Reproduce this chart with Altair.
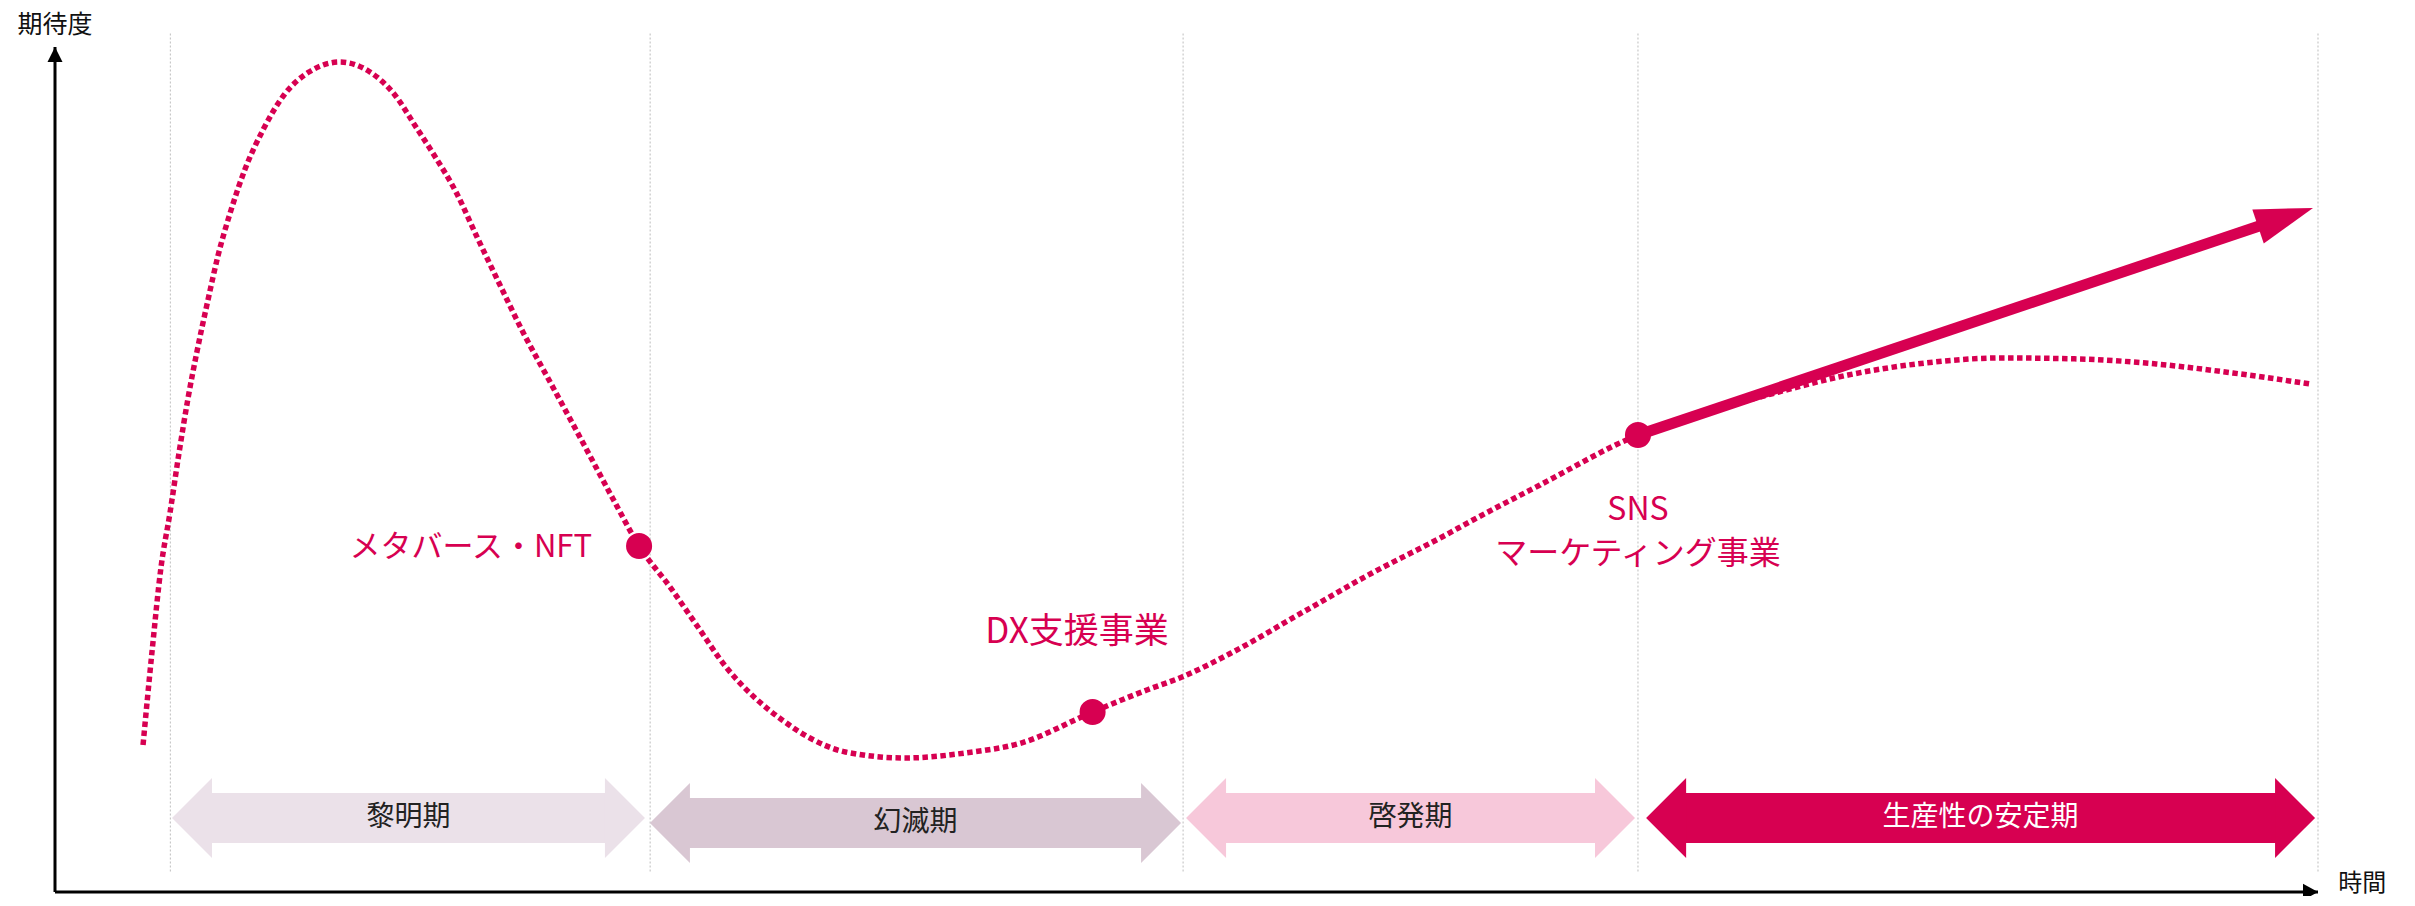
import math
import altair as alt
import pandas as pd

# ---------------- data (time units 0-100, expectation units 0-100) ----------------
curve_t = [3.89, 4.29, 4.68, 5.08, 5.48, 5.88, 6.27, 6.74, 7.20, 7.78, 8.40, 9.19, 10.12, 11.22,
           12.59, 13.92, 15.02, 15.95, 16.75, 17.72, 18.65, 19.62, 20.72, 21.83, 23.24, 24.66,
           25.81, 27.18, 28.41, 29.65, 30.89, 32.13, 33.36, 34.93, 37.56, 40.21, 42.69, 45.85,
           48.25, 49.80, 51.97, 55.08, 58.20, 61.29, 62.66, 65.62, 69.95, 72.43, 75.83, 79.23,
           82.63, 86.04, 89.44, 92.84, 96.24, 99.65]
curve_v = [17.40, 28.52, 38.34, 44.85, 51.95, 58.46, 63.91, 69.82, 75.27, 80.71, 85.56, 90.18,
           94.32, 97.04, 98.22, 97.04, 94.32, 90.53, 87.22, 82.84, 77.51, 72.07, 66.04, 60.59,
           53.61, 46.51, 40.95, 36.09, 31.36, 26.63, 23.08, 20.36, 18.22, 16.57, 15.86, 16.45,
           17.63, 21.30, 23.91, 25.44, 28.28, 33.02, 37.75, 42.01, 44.02, 48.17, 54.08, 56.33,
           58.93, 61.18, 62.60, 63.20, 63.08, 62.49, 61.42, 60.12]

boundary_t = [5.1, 26.3, 49.85, 69.95, 100.0]
boundary_top = 101.6
boundary_bottom = 2.4

phase_names = ["黎明期", "幻滅期", "啓発期", "生産性の安定期"]
phase_start = [5.17, 26.29, 49.98, 70.31]
phase_end = [26.07, 49.76, 69.82, 99.87]
phase_level = [8.76, 8.17, 8.76, 8.76]
phase_dark_text = [True, True, True, False]

biz_names = ["メタバース・NFT", "DX支援事業", "SNS"]
biz_t = [25.81, 45.85, 69.95]
biz_v = [40.95, 21.30, 54.08]

label_text = ["メタバース・NFT", "DX支援事業", "SNS", "マーケティング事業"]
label_t = [23.73, 45.16, 69.95, 69.95]
label_v = [40.71, 30.77, 45.21, 40.0]
label_align = ["right", "center", "center", "center"]

trend_start = (69.95, 54.08)
trend_end = (99.78, 80.95)

y_title = ("期待度", 0.0, 102.6)
x_title = ("時間", 100.9, 0.95)

# ---------------- style ----------------
W, H = 2263, 845
PX_X, PX_Y = W / 100.0, H / 100.0
CRIMSON = "#D70051"
PHASE_COLORS = ["#EBE1E9", "#D9C7D3", "#F7C8DA", CRIMSON]
FONT = "Noto Sans CJK JP"
HEAD_LEN = 40

xs = alt.Scale(domain=[0, 100], nice=False, zero=False)
ys = alt.Scale(domain=[0, 100], nice=False, zero=False)


def X(f):
    return alt.X(f, type="quantitative", scale=xs, axis=None)


def Y(f):
    return alt.Y(f, type="quantitative", scale=ys, axis=None)


# ---------------- tables ----------------
curve_df = pd.DataFrame({"t": curve_t, "v": curve_v})
bound_df = pd.DataFrame({"t": boundary_t, "top": [boundary_top] * len(boundary_t),
                         "bottom": [boundary_bottom] * len(boundary_t)})
off = (HEAD_LEN - 2) / PX_X
phase_df = pd.DataFrame({
    "name": phase_names,
    "start": phase_start,
    "end": phase_end,
    "b0": [s + off for s in phase_start],
    "b1": [e - off for e in phase_end],
    "mid": [(s + e) / 2 for s, e in zip(phase_start, phase_end)],
    "level": phase_level,
    "dark": phase_dark_text,
})
biz_df = pd.DataFrame({"name": biz_names, "t": biz_t, "v": biz_v})
label_df = pd.DataFrame({"text": label_text, "t": label_t, "v": label_v, "align": label_align})

phase_color = alt.Color("name:N", scale=alt.Scale(domain=phase_names, range=PHASE_COLORS), legend=None)

# dotted boundaries
bounds = alt.Chart(bound_df).mark_rule(color="#C8C8C8", strokeWidth=1.2, strokeDash=[2, 2]).encode(
    x=X("t"), y=Y("top"), y2="bottom")

# phase double arrows
bodies = alt.Chart(phase_df).mark_rule(strokeWidth=50, strokeCap="butt").encode(
    x=X("b0"), x2="b1", y=Y("level"), color=phase_color)
heads_r = alt.Chart(phase_df).mark_point(shape="M 0 0 L -1 -1 L -1 1 Z", filled=True, size=(2 * HEAD_LEN) ** 2,
                                         opacity=1, strokeWidth=0).encode(
    x=X("end"), y=Y("level"), color=phase_color)
heads_l = alt.Chart(phase_df).mark_point(shape="M 0 0 L 1 -1 L 1 1 Z", filled=True, size=(2 * HEAD_LEN) ** 2,
                                         opacity=1, strokeWidth=0).encode(
    x=X("start"), y=Y("level"), color=phase_color)
phase_text_dark = alt.Chart(phase_df).transform_filter("datum.dark").mark_text(
    font=FONT, fontSize=28, baseline="middle", align="center", color="#222222").encode(
    x=X("mid"), y=Y("level"), text="name:N")
phase_text_light = alt.Chart(phase_df).transform_filter("!datum.dark").mark_text(
    font=FONT, fontSize=28, baseline="middle", align="center", color="#FFFFFF").encode(
    x=X("mid"), y=Y("level"), text="name:N")

# axes
axis_df = pd.DataFrame({"t0": [0, 0], "v0": [0, 0], "t1": [0, 100], "v1": [100, 0]})
axes = alt.Chart(axis_df).mark_rule(color="#000000", strokeWidth=3).encode(
    x=X("t0"), y=Y("v0"), x2="t1", y2="v1")
yhead = alt.Chart(pd.DataFrame({"t": [0], "v": [100]})).mark_point(
    shape="M 0 0 L -0.5 1 L 0.5 1 Z", filled=True, size=900, color="#000000", opacity=1).encode(
    x=X("t"), y=Y("v"))
xhead = alt.Chart(pd.DataFrame({"t": [100], "v": [0]})).mark_point(
    shape="M 0 0 L -1 -0.55 L -1 0.55 Z", filled=True, size=900, color="#000000", opacity=1).encode(
    x=X("t"), y=Y("v"))
ytitle = alt.Chart(pd.DataFrame({"text": [y_title[0]], "t": [y_title[1]], "v": [y_title[2]]})).mark_text(
    font=FONT, fontSize=25, baseline="middle", align="center", color="#111111").encode(
    x=X("t"), y=Y("v"), text="text:N")
xtitle = alt.Chart(pd.DataFrame({"text": [x_title[0]], "t": [x_title[1]], "v": [x_title[2]]})).mark_text(
    font=FONT, fontSize=24, baseline="middle", align="left", color="#111111").encode(
    x=X("t"), y=Y("v"), text="text:N")

# hype curve
curve = alt.Chart(curve_df).mark_line(color=CRIMSON, strokeWidth=5.5, strokeDash=[5.5, 3.5],
                                      interpolate="monotone", strokeCap="butt").encode(
    x=X("t"), y=Y("v"), order="t:Q")

# trend arrow
dxp = (trend_end[0] - trend_start[0]) * PX_X
dyp = (trend_end[1] - trend_start[1]) * PX_Y
ang = math.atan2(dyp, dxp)
back = 45
line_end = (trend_end[0] - back * math.cos(ang) / PX_X, trend_end[1] - back * math.sin(ang) / PX_Y)
trend_df = pd.DataFrame({"t0": [trend_start[0]], "v0": [trend_start[1]], "t1": [line_end[0]], "v1": [line_end[1]]})
trend_line = alt.Chart(trend_df).mark_rule(color=CRIMSON, strokeWidth=11, strokeCap="butt").encode(
    x=X("t0"), y=Y("v0"), x2="t1", y2="v1")
trend_head = alt.Chart(pd.DataFrame({"t": [trend_end[0]], "v": [trend_end[1]]})).mark_point(
    shape="M 0 0 L -1 -0.31 L -1 0.31 Z", filled=True, size=116 ** 2, color=CRIMSON, opacity=1,
    angle=(360 - math.degrees(ang)) % 360).encode(x=X("t"), y=Y("v"))

# business markers and labels
markers = alt.Chart(biz_df).mark_circle(color=CRIMSON, size=680, opacity=1).encode(x=X("t"), y=Y("v"))
lab_right = alt.Chart(label_df[label_df["align"] == "right"]).mark_text(
    font=FONT, fontSize=31, baseline="middle", align="right", color=CRIMSON).encode(
    x=X("t"), y=Y("v"), text="text:N")
lab_dx = alt.Chart(label_df[label_df["text"] == "DX支援事業"]).mark_text(
    font=FONT, fontSize=35, baseline="middle", align="center", color=CRIMSON).encode(
    x=X("t"), y=Y("v"), text="text:N")
lab_sns = alt.Chart(label_df[(label_df["align"] == "center") & (label_df["text"] != "DX支援事業")]).mark_text(
    font=FONT, fontSize=32, baseline="middle", align="center", color=CRIMSON).encode(
    x=X("t"), y=Y("v"), text="text:N")

chart = alt.layer(
    bounds, bodies, heads_r, heads_l, phase_text_dark, phase_text_light, axes, yhead, xhead, ytitle, xtitle,
    curve, trend_line, trend_head, markers, lab_right, lab_dx, lab_sns
).properties(
    width=W, height=H, autosize="none",
    padding={"left": 47, "top": 39, "right": 89, "bottom": 4},
    background="#FFFFFF"
).configure_view(strokeWidth=0)

chart.save("out.html", embed_options={"renderer": "svg", "actions": False})
